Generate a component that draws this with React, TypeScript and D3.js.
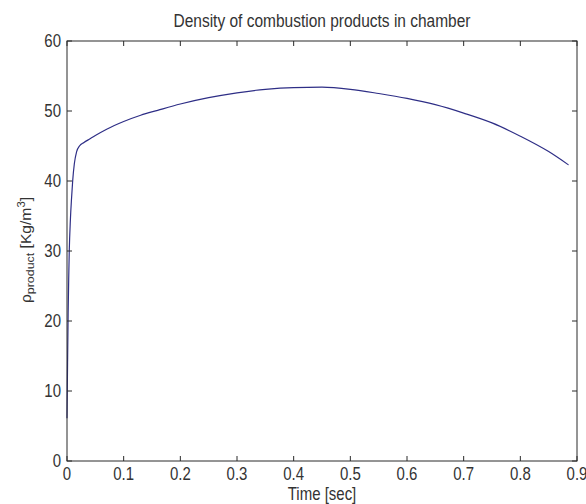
import React from "react";
import * as d3 from "d3";

const timeSec = [0, 0.001, 0.002, 0.003, 0.004, 0.006, 0.008, 0.01, 0.013, 0.017, 0.022, 0.03, 0.04, 0.05, 0.07, 0.1, 0.13, 0.16, 0.2, 0.25, 0.3, 0.35, 0.4, 0.45, 0.5, 0.55, 0.6, 0.65, 0.7, 0.75, 0.8, 0.85, 0.885];
const density = [6.1, 14, 21, 26, 30, 34.5, 37.5, 40, 42.5, 44.2, 45.0, 45.5, 46.0, 46.5, 47.4, 48.5, 49.4, 50.1, 51.0, 51.9, 52.6, 53.1, 53.35, 53.4, 53.1, 52.5, 51.8, 50.9, 49.7, 48.3, 46.4, 44.2, 42.3];
const xTicks = [0, 0.1, 0.2, 0.3, 0.4, 0.5, 0.6, 0.7, 0.8, 0.9];
const yTicks = [0, 10, 20, 30, 40, 50, 60];
const titleText = "Density of combustion products in chamber";
const xLabelText = "Time [sec]";

const W = 586, H = 504;
const L = 67, R = 577, T = 41, B = 461;
const FONT = "'Liberation Sans', Arial, sans-serif";
const AX = "#2a2a2a";
const SY = 1.18;

function SText(props: { x: number; y: number; anchor: string; size: number; children: React.ReactNode }) {
  return (
    <text transform={`translate(${props.x},${props.y}) scale(1,${SY})`} textAnchor={props.anchor}
      fontFamily={FONT} fontSize={props.size} fill="#333">{props.children}</text>
  );
}

export default function App() {
  const x = d3.scaleLinear().domain([0, 0.9]).range([L, R]);
  const y = d3.scaleLinear().domain([0, 60]).range([B, T]);
  const pts = timeSec.map((t, i) => [t, density[i]] as [number, number]);
  const line = d3.line<[number, number]>().x(d => x(d[0])).y(d => y(d[1])).curve(d3.curveMonotoneX);
  const tl = 5;
  return (
    <svg width={W} height={H} style={{ position: "absolute", left: 0, top: 0, background: "#fff" }}>
      <rect x={0} y={0} width={W} height={H} fill="#fff" />
      <path d={line(pts) || ""} fill="none" stroke="#2e2e86" strokeWidth={1.2} />
      <rect x={L} y={T} width={R - L} height={B - T} fill="none" stroke={AX} strokeWidth={1} />
      {xTicks.map(t => (
        <g key={"x" + t}>
          <line x1={x(t)} x2={x(t)} y1={B} y2={B - tl} stroke={AX} />
          <line x1={x(t)} x2={x(t)} y1={T} y2={T + tl} stroke={AX} />
          <SText x={x(t)} y={480} anchor="middle" size={15}>{String(t)}</SText>
        </g>
      ))}
      {yTicks.map(v => (
        <g key={"y" + v}>
          <line x1={L} x2={L + tl} y1={y(v)} y2={y(v)} stroke={AX} />
          <line x1={R} x2={R - tl} y1={y(v)} y2={y(v)} stroke={AX} />
          <SText x={61} y={y(v) + 6} anchor="end" size={15}>{String(v)}</SText>
        </g>
      ))}
      <SText x={(L + R) / 2} y={27} anchor="middle" size={15.5}>{titleText}</SText>
      <SText x={(L + R) / 2} y={500} anchor="middle" size={15}>{xLabelText}</SText>
      <text transform={`translate(31,${(T + B) / 2 - 1}) rotate(-90) scale(1.08,1)`} textAnchor="middle" fontFamily={FONT} fontSize={14.5} fill="#333">
        <tspan>ρ</tspan>
        <tspan fontSize={11.5} dy={3}>product</tspan>
        <tspan dy={-3}> [Kg/m</tspan>
        <tspan fontSize={10.5} dy={-6}>3</tspan>
        <tspan dy={6}>]</tspan>
      </text>
    </svg>
  );
}
